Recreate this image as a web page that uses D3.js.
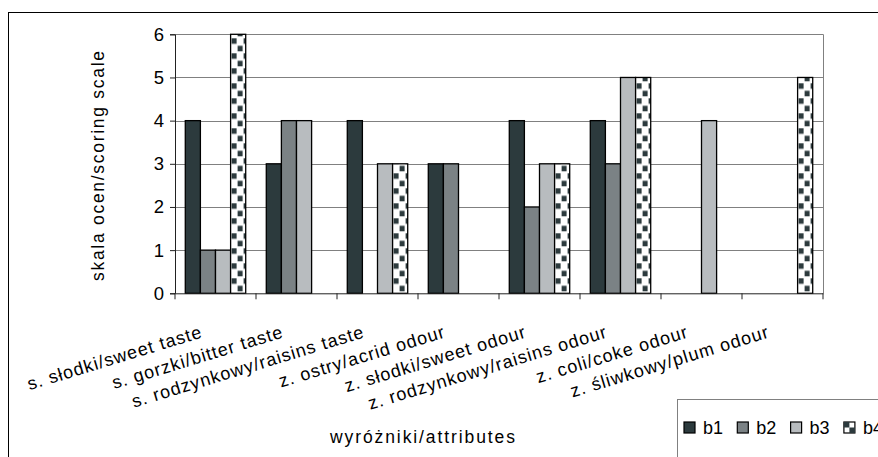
<!DOCTYPE html>
<html><head><meta charset="utf-8">
<script src="https://cdn.jsdelivr.net/npm/d3@7"></script>
<style>body{margin:0;background:#fff}svg{display:block}</style>
</head><body><svg id="c" width="878" height="457"></svg>
<script>
const categories = ["s. słodki/sweet taste","s. gorzki/bitter taste","s. rodzynkowy/raisins taste","z. ostry/acrid odour","z. słodki/sweet odour","z. rodzynkowy/raisins odour","z. coli/coke odour","z. śliwkowy/plum odour"];
const seriesNames = ["b1","b2","b3","b4"];
const b1 = [4,3,4,3,4,4,0,0];
const b2 = [1,4,0,3,2,3,0,0];
const b3 = [1,4,3,0,3,5,4,0];
const b4 = [6,0,3,0,3,5,0,5];
const yTicks = [0,1,2,3,4,5,6];
const yTitle = "skala ocen/scoring scale";
const xTitle = "wyróżniki/attributes";

const series = [b1,b2,b3,b4];
const colors = ["#2c3a3d","#7b8285","#b8bcbf","checker"];
const FONT = "Liberation Sans, Arial, sans-serif";
const svg = d3.select("#c");
const L=175,R=823,T=34.3,B=293.3;

svg.append("rect").attr("x",8.5).attr("y",12.5).attr("width",900).attr("height",500).attr("fill","none").attr("stroke","#000");

const x0 = d3.scaleBand().domain(categories).range([L,R]).paddingInner(0.254).paddingOuter(0.127);
const x1 = d3.scaleBand().domain(seriesNames).range([0,x0.bandwidth()]);
const y = d3.scaleLinear().domain([0,6]).range([B,T]);

svg.append("g").selectAll("line").data(yTicks.filter(d=>d>0)).join("line")
  .attr("x1",L).attr("x2",R).attr("y1",d=>Math.round(y(d))+0.5).attr("y2",d=>Math.round(y(d))+0.5)
  .attr("stroke","#808080").attr("stroke-width",1);
svg.append("line").attr("x1",R+0.5).attr("x2",R+0.5).attr("y1",T).attr("y2",B).attr("stroke","#808080");

const defs = svg.append("defs");
const bars = [];
categories.forEach((c,i)=>series.forEach((s,j)=>{ if(s[i]>0) bars.push({c,i,j,v:s[i]}); }));
bars.filter(d=>d.j===3).forEach((d,k)=>{
  const bx = x0(d.c)+x1(seriesNames[3]);
  const p = defs.append("pattern").attr("id","chk"+k).attr("patternUnits","userSpaceOnUse")
    .attr("x",bx+1).attr("y",B).attr("width",12).attr("height",15);
  p.append("rect").attr("width",12).attr("height",15).attr("fill","#fff");
  p.append("rect").attr("x",0).attr("y",0).attr("width",5).attr("height",5.5).attr("fill","#2c3a3d");
  p.append("rect").attr("x",6).attr("y",7.5).attr("width",5).attr("height",5.5).attr("fill","#2c3a3d");
  d.pid = "chk"+k;
});

svg.append("g").selectAll("rect").data(bars).join("rect")
  .attr("x",d=>x0(d.c)+x1(seriesNames[d.j]))
  .attr("y",d=>y(d.v))
  .attr("width",x1.bandwidth())
  .attr("height",d=>B-y(d.v))
  .attr("fill",d=>d.j===3?`url(#${d.pid})`:colors[d.j])
  .attr("stroke","#000").attr("stroke-width",1.3);

const ya = svg.append("g").attr("transform",`translate(${L},0)`)
  .call(d3.axisLeft(y).tickValues(yTicks).tickSize(5).tickPadding(6).tickFormat(d3.format("d")));
ya.attr("font-family",FONT);
ya.select(".domain").attr("stroke","#222");
ya.selectAll(".tick line").attr("stroke","#222");
ya.selectAll("text").attr("font-size",18.5).attr("fill","#000");

const xa = svg.append("g").attr("transform",`translate(0,${B})`)
  .call(d3.axisBottom(x0).tickSize(0).tickFormat(""));
xa.select(".domain").attr("stroke","#222");
const bounds = d3.range(categories.length+1).map(i=>L+i*(R-L)/categories.length);
xa.append("g").selectAll("line").data(bounds).join("line")
  .attr("x1",d=>d).attr("x2",d=>d).attr("y1",0).attr("y2",6).attr("stroke","#222");
xa.selectAll(".tick text").remove();

svg.append("g").selectAll("text").data(categories).join("text")
  .attr("transform",d=>`translate(${x0(d)+x0.bandwidth()/2-12},337) rotate(-17)`)
  .attr("text-anchor","end").attr("font-size",18).attr("letter-spacing",1).attr("font-family",FONT)
  .text(d=>d);

svg.append("text").attr("transform","translate(104,166) rotate(-90)").attr("font-family",FONT)
  .attr("text-anchor","middle").attr("font-size",17.5).attr("textLength",230).attr("lengthAdjust","spacing").text(yTitle);
svg.append("text").attr("x",330).attr("y",443).attr("font-size",17.5).attr("font-family",FONT)
  .attr("textLength",185).attr("lengthAdjust","spacing").text(xTitle);

const lg = svg.append("g");
lg.append("rect").attr("x",677.5).attr("y",399.5).attr("width",300).attr("height",100).attr("fill","#fff").attr("stroke","#808080");
const li = lg.selectAll("g").data(seriesNames).join("g").attr("transform",(d,i)=>`translate(${684+i*53.3},422)`);
li.append("rect").attr("width",11).attr("height",11).attr("stroke","#000").attr("stroke-width",1.2)
  .attr("fill",(d,i)=>i<3?colors[i]:"#fff");
li.filter((d,i)=>i===3).append("rect").attr("width",5.5).attr("height",5.5).attr("fill","#2c3a3d");
li.filter((d,i)=>i===3).append("rect").attr("x",5.5).attr("y",5.5).attr("width",5.5).attr("height",5.5).attr("fill","#2c3a3d");
li.append("text").attr("x",19).attr("y",11.5).attr("font-size",18).attr("font-family",FONT).text(d=>d);
</script></body></html>
